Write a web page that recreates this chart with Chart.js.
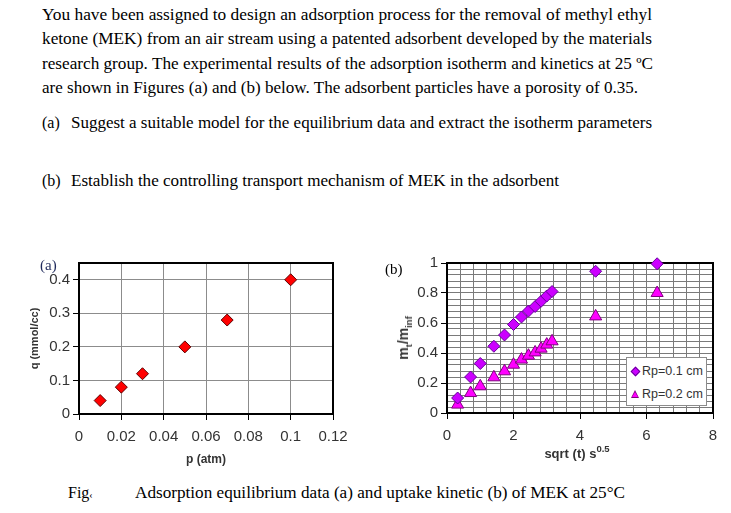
<!DOCTYPE html>
<html>
<head>
<meta charset="utf-8">
<script src="https://cdn.jsdelivr.net/npm/chart.js@4.4.1/dist/chart.umd.min.js"></script>
<style>
  body { margin: 0; width: 731px; height: 513px; overflow: hidden; position: relative; background: #fff;
         font-family: "Liberation Serif", "Times New Roman", serif; color: #000; }
  .ln { position: absolute; white-space: nowrap; font-size: 16px; line-height: 16px; transform-origin: 0 0; }
  .cv { position: absolute; }
  .ax { position: absolute; white-space: nowrap; font-family: "Liberation Sans", Arial, sans-serif;
        font-weight: bold; color: #333; line-height: 1; }
  .ax sub, .ax sup { font-size: 9.5px; line-height: 0; }
  #legB { position: absolute; left: 626px; top: 357px; width: 79px; height: 47px; background: #fff;
          border: 1px solid #8c8c8c; font: 12.5px "Liberation Sans", Arial, sans-serif; color: #333; }
  #legB div { position: absolute; left: 15px; white-space: nowrap; line-height: 13px; }
  .mk-d { position: absolute; left: -10px; top: 3px; width: 5px; height: 5px; background: #cc00ff;
          border: 1px solid #660099; transform: rotate(45deg); }
  .mk-t { position: absolute; left: -11px; top: 2px; width: 0; height: 0; border-left: 4px solid transparent;
          border-right: 4px solid transparent; border-bottom: 8px solid #800080; }
  .mk-t::after { content: ""; position: absolute; left: -3px; top: 2px; border-left: 3px solid transparent;
          border-right: 3px solid transparent; border-bottom: 5px solid #ff00ff; }
</style>
</head>
<body>
<div class="ln" style="left:42px;top:7px" data-w="610">You have been assigned to design an adsorption process for the removal of methyl ethyl</div>
<div class="ln" style="left:42px;top:31px" data-w="610">ketone (MEK) from an air stream using a patented adsorbent developed by the materials</div>
<div class="ln" style="left:42px;top:56px" data-w="611">research group. The experimental results of the adsorption isotherm and kinetics at 25 &#186;C</div>
<div class="ln" style="left:42px;top:80px" data-w="596">are shown in Figures (a) and (b) below. The adsorbent particles have a porosity of 0.35.</div>
<div class="ln" style="left:42px;top:115px">(a)</div>
<div class="ln" style="left:71px;top:115px" data-w="581">Suggest a suitable model for the equilibrium data and extract the isotherm parameters</div>
<div class="ln" style="left:42px;top:173px">(b)</div>
<div class="ln" style="left:71px;top:173px" data-w="488">Establish the controlling transport mechanism of MEK in the adsorbent</div>

<canvas id="isoChart" class="cv" style="left:0;top:240px" width="360" height="230"></canvas>
<canvas id="kinChart" class="cv" style="left:360px;top:240px" width="371" height="230"></canvas>

<div class="ln" style="left:40px;top:257px;font-size:15px;color:#1f2a5c">(a)</div>
<div class="ln" style="left:385px;top:261px;font-size:15px">(b)</div>

<div class="ax" style="left:403px;top:338px;font-size:14px;transform:translate(-50%,-50%) rotate(-90deg)">m<sub>t</sub>/m<sub>inf</sub></div>
<div class="ax" style="left:577px;top:453px;font-size:13px;transform:translate(-50%,-50%)">sqrt (t) s<sup>0.5</sup></div>

<div id="legB">
  <div style="top:7px"><span class="mk-d"></span>Rp=0.1 cm</div>
  <div style="top:30px"><span class="mk-t"></span>Rp=0.2 cm</div>
</div>

<div class="ln" style="left:68px;top:485px">Fig<span style="font-size:10px">&#8249;</span></div>
<div class="ln" style="left:135px;top:485px" data-w="490">Adsorption equilibrium data (a) and uptake kinetic (b) of MEK at 25°C</div>

<script>
// (a) isotherm
const isoP = [0.01, 0.02, 0.03, 0.05, 0.07, 0.1];
const isoQ = [0.04, 0.08, 0.12, 0.2, 0.28, 0.4];
const isoXTicks = [0, 0.02, 0.04, 0.06, 0.08, 0.1, 0.12];
const isoYTicks = [0, 0.1, 0.2, 0.3, 0.4];

// (b) uptake kinetics
const sqrtT = [0.32, 0.71, 1.0, 1.41, 1.73, 2.0, 2.24, 2.45, 2.65, 2.83, 3.0, 3.16, 4.47, 6.32];
const uptakeR01 = [0.10, 0.24, 0.33, 0.445, 0.52, 0.59, 0.64, 0.68, 0.71, 0.745, 0.78, 0.81, 0.945, 0.995];
const uptakeR02 = [0.056, 0.133, 0.178, 0.238, 0.278, 0.322, 0.356, 0.382, 0.404, 0.429, 0.456, 0.478, 0.644, 0.80];
const kinXLabels = [0, 2, 4, 6, 8];
const kinYLabels = [0, 0.2, 0.4, 0.6, 0.8, 1];

// fit each text line to its width in the scan
document.querySelectorAll('[data-w]').forEach(el => {
    const w = el.getBoundingClientRect().width;
    el.style.transform = `scaleX(${el.dataset.w / w})`;
});

const tickFont = { family: 'Liberation Sans', size: 15 };

// thick box around the plot area
const frame = {
    id: 'frame',
    beforeDatasetsDraw(chart) {
        const { ctx, chartArea: a } = chart;
        ctx.save();
        ctx.strokeStyle = '#000';
        ctx.lineWidth = 2;
        ctx.strokeRect(a.left, a.top, a.right - a.left, a.bottom - a.top);
        ctx.restore();
    }
};

const toPoints = (xs, ys) => xs.map((x, i) => ({ x: x, y: ys[i] }));

new Chart(document.getElementById('isoChart'), {
    type: 'scatter',
    data: {
        datasets: [{
            data: toPoints(isoP, isoQ),
            pointStyle: 'rectRot',
            pointRadius: 6,
            pointHoverRadius: 6,
            backgroundColor: '#ff0000',
            borderColor: '#5c0000',
            borderWidth: 1,
            clip: false
        }]
    },
    options: {
        responsive: false,
        animation: false,
        events: [],
        layout: { padding: { left: 0, right: 27, top: 23, bottom: 0 } },
        plugins: { legend: { display: false }, tooltip: { enabled: false } },
        scales: {
            x: {
                type: 'linear', min: 0, max: 0.12,
                afterBuildTicks: ax => { ax.ticks = isoXTicks.map(v => ({ value: v })); },
                afterFit: ax => { ax.height = 56; },
                ticks: { font: tickFont, color: '#333', padding: 8, autoSkip: false, maxRotation: 0,
                         callback: v => String(v) },
                grid: { color: '#8c8c8c', tickColor: '#000', tickLength: 6 },
                border: { display: false },
                title: { display: true, text: 'p (atm)', color: '#333',
                         font: { family: 'Liberation Sans', size: 12, weight: 'bold' },
                         padding: { top: 0, bottom: 3 } }
            },
            y: {
                type: 'linear', min: 0, max: 0.45,
                afterBuildTicks: ax => { ax.ticks = isoYTicks.map(v => ({ value: v })); },
                afterFit: ax => { ax.width = 79; },
                ticks: { font: tickFont, color: '#333', padding: 3, callback: v => String(v) },
                grid: { color: '#8c8c8c', tickColor: '#000', tickLength: 6 },
                border: { display: false },
                title: { display: true, text: 'q (mmol/cc)', color: '#333',
                         font: { family: 'Liberation Sans', size: 11, weight: 'bold' },
                         padding: { top: 28, bottom: 0 } }
            }
        }
    },
    plugins: [frame]
});

const near = (v, list) => list.some(t => Math.abs(t - v) < 1e-6);

new Chart(document.getElementById('kinChart'), {
    type: 'scatter',
    data: {
        datasets: [{
            label: 'Rp=0.1 cm',
            data: toPoints(sqrtT, uptakeR01),
            pointStyle: 'rectRot',
            pointRadius: 6,
            pointHoverRadius: 6,
            backgroundColor: '#cc00ff',
            borderColor: '#660099',
            borderWidth: 1,
            clip: false
        }, {
            label: 'Rp=0.2 cm',
            data: toPoints(sqrtT, uptakeR02),
            pointStyle: 'triangle',
            pointRadius: 7,
            pointHoverRadius: 7,
            backgroundColor: '#ff00ff',
            borderColor: '#800080',
            borderWidth: 1,
            clip: false
        }]
    },
    options: {
        responsive: false,
        animation: false,
        events: [],
        layout: { padding: { left: 0, right: 18, top: 23, bottom: 0 } },
        plugins: { legend: { display: false }, tooltip: { enabled: false } },
        scales: {
            x: {
                type: 'linear', min: 0, max: 8,
                afterFit: ax => { ax.height = 57; },
                ticks: { stepSize: 0.4, font: tickFont, color: '#333', padding: 8, autoSkip: false, maxRotation: 0,
                         callback: v => near(v, kinXLabels) ? String(Math.round(v)) : '' },
                grid: { color: '#7a7a7a', tickLength: 6,
                        tickColor: c => near(c.tick.value, kinXLabels) ? '#000' : 'rgba(0,0,0,0)' },
                border: { display: false }
            },
            y: {
                type: 'linear', min: 0, max: 1,
                afterFit: ax => { ax.width = 87; },
                ticks: { stepSize: 0.04, font: tickFont, color: '#333', padding: 3, autoSkip: false,
                         callback: v => near(v, kinYLabels) ? String(Math.round(v * 10) / 10) : '' },
                grid: { color: '#7a7a7a', tickLength: 6,
                        tickColor: c => near(c.tick.value, kinYLabels) ? '#000' : 'rgba(0,0,0,0)' },
                border: { display: false }
            }
        }
    },
    plugins: [frame]
});
</script>
</body>
</html>
